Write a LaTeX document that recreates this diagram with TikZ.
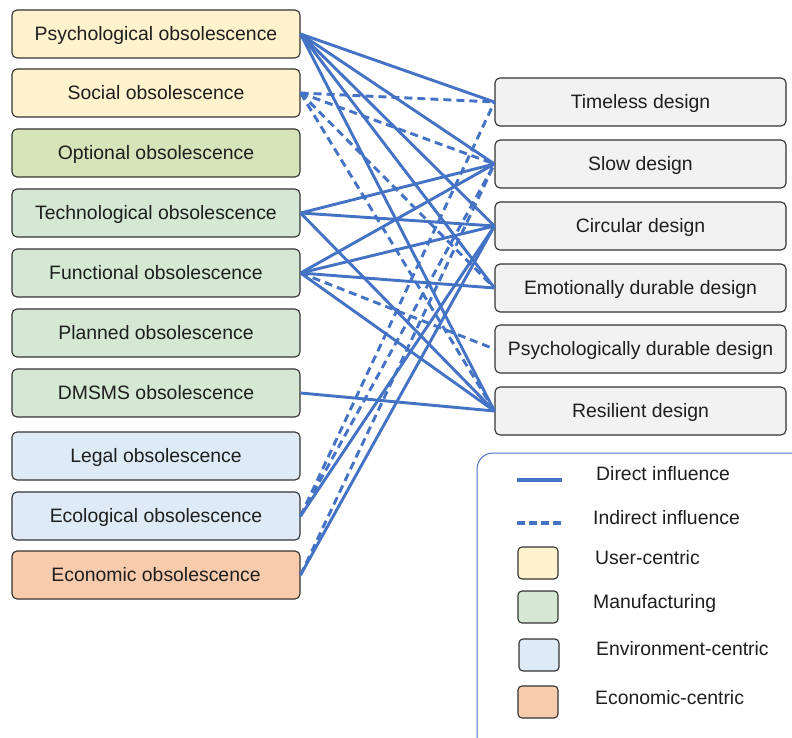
\documentclass[tikz,border=0pt]{standalone}
\usepackage{fontspec}
\setmainfont{Liberation Sans}
\definecolor{usercol}{HTML}{FFF2CC}
\definecolor{optcol}{HTML}{D6E4BA}
\definecolor{mancol}{HTML}{D5E8D4}
\definecolor{envcol}{HTML}{DEEBF7}
\definecolor{ecocol}{HTML}{F8CBAD}
\definecolor{designcol}{HTML}{F2F2F2}
\definecolor{edgecol}{HTML}{333333}
\definecolor{linkcol}{HTML}{4472C4}
\definecolor{txtcol}{HTML}{1E1E1E}
\begin{document}
\begin{tikzpicture}[x=1pt,y=-1pt,
  labelfont/.style={font=\fontsize{19.4}{23}\selectfont},
  box/.style={draw=edgecol,line width=1.1pt,rounded corners=5pt,inner sep=0pt,
    minimum height=48pt,text=txtcol,labelfont,text height=15.5pt,text depth=2pt},
  cause/.style={box,minimum width=288pt},
  design/.style={box,minimum width=291pt,fill=designcol},
  swatch/.style={draw=edgecol,line width=1.1pt,rounded corners=4pt,inner sep=0pt,
    minimum width=40pt,minimum height=32pt},
  legtext/.style={anchor=west,inner sep=0pt,text=txtcol,labelfont,
    text height=15.5pt,text depth=2pt},
  direct/.style={draw=linkcol,line width=2.9pt},
  indirect/.style={draw=linkcol,line width=2.9pt,dash pattern=on 8pt off 5pt}]
\clip (0,0) rectangle (792,738);
\useasboundingbox (0,0) rectangle (792,738);
\fill[white] (0,0) rectangle (792,738);

% kinds of obsolescence
\node[cause,fill=usercol] (psy) at (156,34) {Psychological obsolescence};
\node[cause,fill=usercol] (soc) at (156,93) {Social obsolescence};
\node[cause,fill=optcol]  (opt) at (156,153) {Optional obsolescence};
\node[cause,fill=mancol]  (tec) at (156,213) {Technological obsolescence};
\node[cause,fill=mancol]  (fun) at (156,273) {Functional obsolescence};
\node[cause,fill=mancol]  (pla) at (156,333) {Planned obsolescence};
\node[cause,fill=mancol]  (dms) at (156,393) {DMSMS obsolescence};
\node[cause,fill=envcol]  (leg) at (156,456) {Legal obsolescence};
\node[cause,fill=envcol]  (eco) at (156,516) {Ecological obsolescence};
\node[cause,fill=ecocol]  (ecn) at (156,575) {Economic obsolescence};

% design strategies
\node[design] (tim) at (640.5,102) {Timeless design};
\node[design] (slo) at (640.5,164) {Slow design};
\node[design] (cir) at (640.5,226) {Circular design};
\node[design] (emo) at (640.5,288) {Emotionally durable design};
\node[design] (pdd) at (640.5,349) {Psychologically durable design};
\node[design] (res) at (640.5,411) {Resilient design};

% direct influences
\foreach \a/\b in {psy/tim,psy/slo,psy/cir,psy/emo,psy/res,
                   tec/slo,tec/cir,tec/res,
                   fun/slo,fun/cir,fun/emo,fun/res,
                   dms/res,eco/cir,ecn/cir}
  \draw[direct] (\a.east) -- (\b.west);

% indirect influences
\foreach \a/\b in {soc/tim,soc/slo,soc/emo,soc/res,
                   fun/pdd,eco/tim,eco/slo,ecn/slo}
  \draw[indirect] (\a.east) -- (\b.west);

% legend
\draw[linkcol,line width=1pt,rounded corners=16pt] (477,453) rectangle (830,770);
\coordinate (d1) at (517,480); \coordinate (d2) at (562,480);
\draw[direct,line width=3.2pt] (d1) -- (d2);
\node[legtext] (ld) at (596,474) {Direct influence};
\coordinate (i1) at (517,523); \coordinate (i2) at (564,523);
\draw[indirect,line width=3.2pt,dash pattern=on 8pt off 4pt] (i1) -- (i2);
\node[legtext] (li) at (593,518) {Indirect influence};
\node[swatch,fill=usercol] (s1) at (538,563) {};
\node[legtext] (l1) at (595,558) {User-centric};
\node[swatch,fill=mancol] (s2) at (538,607) {};
\node[legtext] (l2) at (593,602) {Manufacturing};
\node[swatch,fill=envcol] (s3) at (539,655) {};
\node[legtext] (l3) at (596,649) {Environment-centric};
\node[swatch,fill=ecocol] (s4) at (538,702) {};
\node[legtext] (l4) at (595,698) {Economic-centric};
\end{tikzpicture}
\end{document}
